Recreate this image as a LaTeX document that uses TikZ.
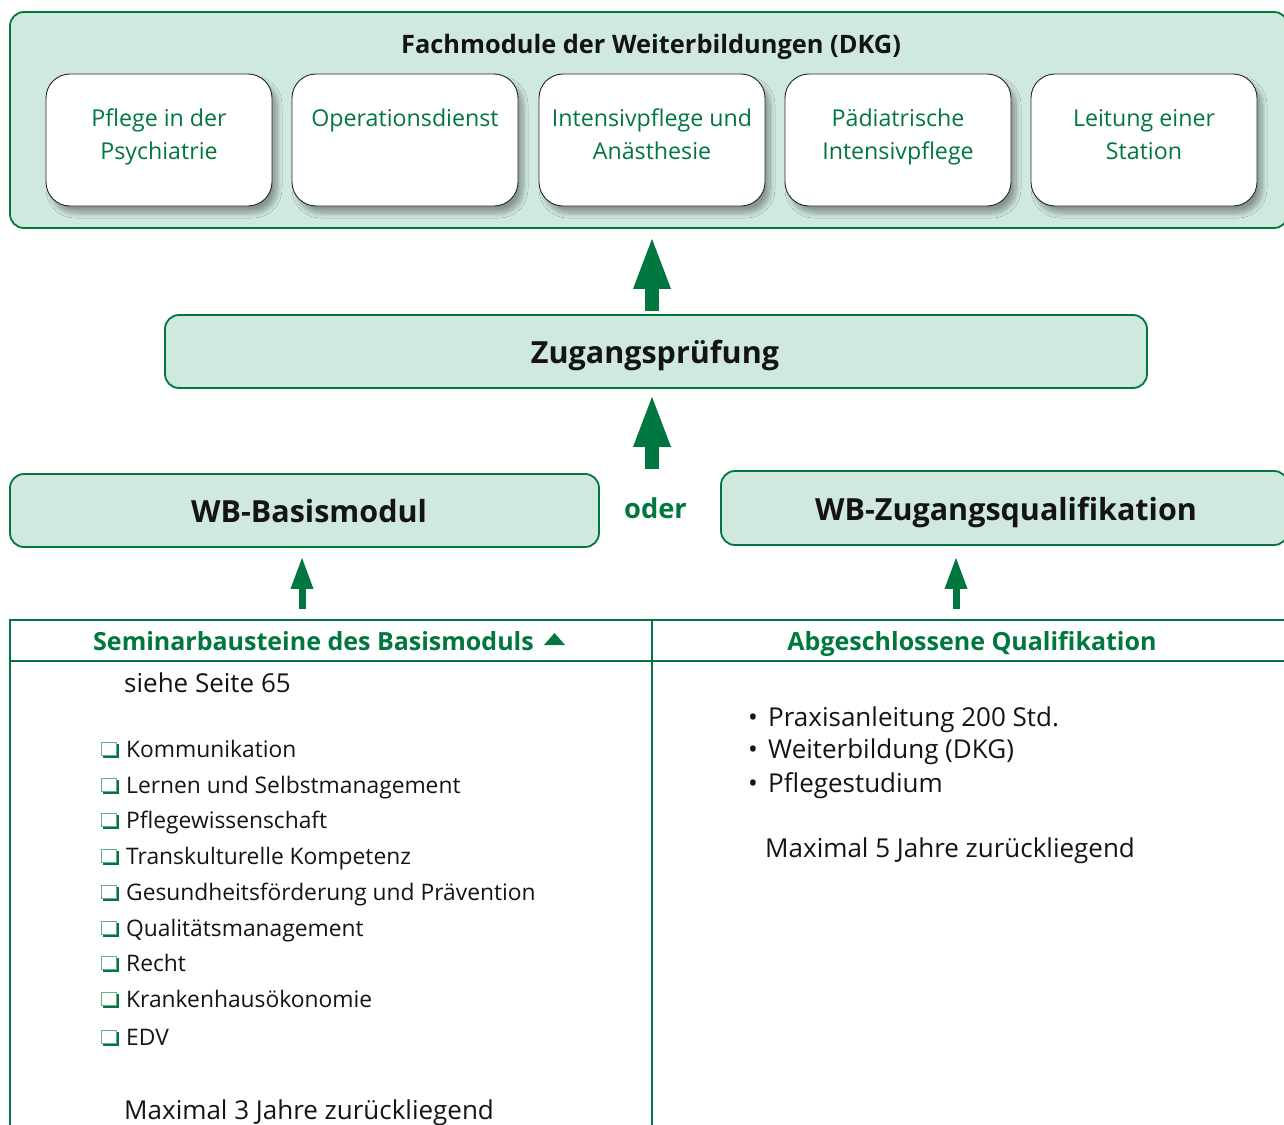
\documentclass[tikz,border=0pt]{standalone}
\usepackage{fontspec}
\setmainfont{Open Sans}
\usetikzlibrary{arrows.meta,calc,shadows.blur}
\definecolor{dkgreen}{RGB}{0,119,62}
\definecolor{palegreen}{RGB}{208,233,222}
\definecolor{inkblack}{RGB}{20,20,20}
\begin{document}
\begin{tikzpicture}[x=1pt,y=-1pt,
  panel/.style={draw=dkgreen, line width=1.8pt, fill=palegreen, rounded corners=14pt, inner sep=0pt},
  module/.style={draw=black!85, line width=0.9pt, fill=white, rounded corners=24pt,
    minimum width=226pt, minimum height=132pt, inner sep=0pt,
    blur shadow={shadow xshift=5pt, shadow yshift=-7pt, shadow blur radius=5pt,
      shadow opacity=35, shadow blur steps=12}},
  modtext/.style={anchor=base, text=dkgreen, font=\fontsize{23.2}{27}\selectfont, inner sep=0pt},
  bigtitle/.style={anchor=base, text=inkblack, font=\fontsize{30.5}{35}\selectfont\bfseries, inner sep=0pt},
  headtext/.style={anchor=base, text=dkgreen, font=\fontsize{25}{30}\selectfont\bfseries, inner sep=0pt},
  body/.style={anchor=base west, text=inkblack, font=\fontsize{22.8}{27}\selectfont, inner sep=0pt},
  bodylarge/.style={anchor=base west, text=inkblack, font=\fontsize{26}{31}\selectfont, inner sep=0pt},
  bigarrow/.style={draw=dkgreen, line width=14pt, -{Triangle[width=38pt, length=50pt, line width=0pt]}},
  smallarrow/.style={draw=dkgreen, line width=7pt, -{Triangle[width=23pt, length=31pt, line width=0pt]}},
  tableline/.style={draw=dkgreen, line width=2pt},
  checkbox/.pic={
    \fill[dkgreen] (2,2) rectangle (18,16);
    \filldraw[fill=white, draw=dkgreen!60, line width=0.8pt] (0,0) rectangle (15,13);
  }
]
\useasboundingbox (0,0) rectangle (1284,1124);

% top panel with the five specialist modules
\node[panel, minimum width=1278pt, minimum height=216pt] (fach) at (649,120) {};
\node[anchor=base, text=inkblack, font=\fontsize{25.4}{30}\selectfont\bfseries, inner sep=0pt] (fachtitle) at (651,53) {Fachmodule der Weiterbildungen (DKG)};

\node[module] (m1) at (159,140) {};
\node[module] (m2) at (405,140) {};
\node[module] (m3) at (652,140) {};
\node[module] (m4) at (898,140) {};
\node[module] (m5) at (1144,140) {};

\node[modtext] (m1a) at (159,126) {Pflege in der};
\node[modtext] (m1b) at (159,159) {Psychiatrie};
\node[modtext] (m2a) at (405,126) {Operationsdienst};
\node[modtext] (m3a) at (652,126) {Intensivpflege und};
\node[modtext] (m3b) at (652,159) {Anästhesie};
\node[modtext] (m4a) at (898,126) {Pädiatrische};
\node[modtext] (m4b) at (898,159) {Intensivpflege};
\node[modtext] (m5a) at (1144,126) {Leitung einer};
\node[modtext] (m5b) at (1144,159) {Station};

% entrance exam
\node[panel, minimum width=982pt, minimum height=73pt] (zug) at (656,351.5) {};
\node[bigtitle] (zugtext) at (655,363) {Zugangsprüfung};

% the two ways in
\node[panel, minimum width=589pt, minimum height=73pt] (basis) at (304.5,510.5) {};
\node[bigtitle] (basistext) at (309,522) {WB-Basismodul};
\node[panel, minimum width=567pt, minimum height=74pt] (zq) at (1004.5,508) {};
\node[bigtitle] (zqtext) at (1006,520) {WB-Zugangsqualifikation};
\node[anchor=base, text=dkgreen, font=\fontsize{27.3}{32}\selectfont\bfseries, inner sep=0pt] (oder) at (655.5,518) {oder};

% arrows
\draw[bigarrow] ($(652,0 |- zug.north)+(0,-3)$) -- ($(652,0 |- fach.south)+(0,10)$);
\draw[bigarrow] ($(652,0 |- basis.north)+(0,-4)$) -- ($(652,0 |- zug.south)+(0,8)$);

% table
\coordinate (tl) at (10,620);
\coordinate (tr) at (1290,620);
\coordinate (hl) at (10,661);
\coordinate (hr) at (1290,661);
\coordinate (tm) at (652,620);
\coordinate (bl) at (10,1130);
\coordinate (bm) at (652,1130);
\draw[tableline] (bl) -- (tl) -- (tr);
\draw[tableline] (hl) -- (hr);
\draw[tableline] (tm) -- (bm);

\draw[smallarrow] ($(302,0 |- tl)+(0,-11)$) -- ($(302,0 |- basis.south)+(0,10)$);
\draw[smallarrow] ($(956,0 |- tl)+(0,-11)$) -- ($(956,0 |- zq.south)+(0,12)$);

\node[headtext, anchor=base west] (lhead) at (93,650) {Seminarbausteine des Basismoduls};
\fill[dkgreen] (544,645) -- (565,645) -- (554.5,633) -- cycle;
\node[headtext] (rhead) at (972,650) {Abgeschlossene Qualifikation};

% left column
\node[bodylarge] (seite) at (124,692) {siehe Seite 65};
\foreach \y/\txt [count=\i] in {757/Kommunikation, 793/Lernen und Selbstmanagement, 828/Pflegewissenschaft,
  864/Transkulturelle Kompetenz, 900/Gesundheitsförderung und Prävention, 936/Qualitätsmanagement,
  971/Recht, 1007/Krankenhausökonomie, 1045/EDV}{
  \pic at (101,\y-15) {checkbox};
  \node[body] (item\i) at (126,\y) {\txt};
}
\node[bodylarge] (max3) at (124,1119) {Maximal 3 Jahre zurückliegend};

% right column
\foreach \y/\txt [count=\i] in {726/Praxisanleitung 200 Std., 758/Weiterbildung (DKG), 792/Pflegestudium}{
  \node[bodylarge] (bul\i) at (748,\y) {\textbullet};
  \node[bodylarge] (qual\i) at (768,\y) {\txt};
}
\node[bodylarge] (max5) at (765,857) {Maximal 5 Jahre zurückliegend};
\end{tikzpicture}
\end{document}
